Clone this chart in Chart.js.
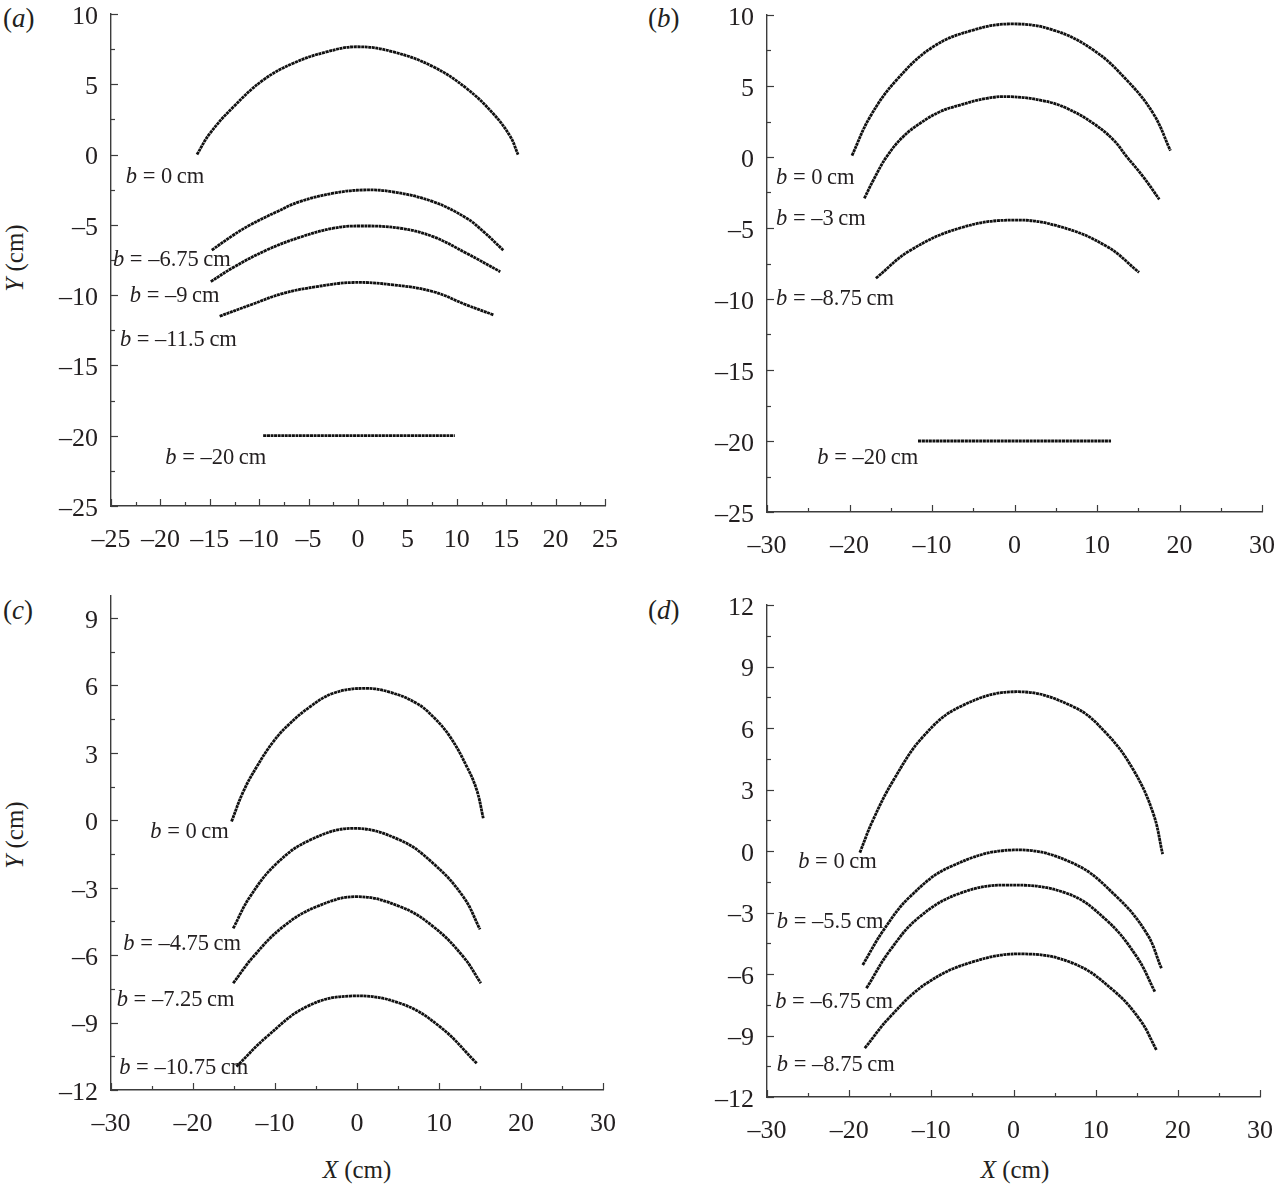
<!DOCTYPE html>
<html>
<head>
<meta charset="utf-8">
<script src="https://cdn.jsdelivr.net/npm/chart.js@4.4.0/dist/chart.umd.min.js"></script>
<style>
  body { margin: 0; background: #fff; width: 1280px; height: 1188px; position: relative; overflow: hidden;
         font-family: "Liberation Serif", "DejaVu Serif", serif; color: #231f20; }
  canvas { position: absolute; }
  .tag { position: absolute; font-size: 27px; line-height: 30px; }
  .ytitle { position: absolute; width: 120px; height: 30px; line-height: 30px; font-size: 25px; text-align: center;
            transform: rotate(-90deg); white-space: nowrap; }
  .xtitle { position: absolute; width: 120px; height: 30px; line-height: 30px; font-size: 25px; text-align: center; white-space: nowrap; }
</style>
</head>
<body>
<div class="tag" style="left:3px;top:3px">(<i>a</i>)</div>
<div class="tag" style="left:648px;top:3px">(<i>b</i>)</div>
<div class="tag" style="left:3px;top:595px">(<i>c</i>)</div>
<div class="tag" style="left:648px;top:595px">(<i>d</i>)</div>
<div class="ytitle" style="left:-45px;top:243px"><i>Y</i> (cm)</div>
<div class="ytitle" style="left:-45px;top:820px"><i>Y</i> (cm)</div>
<div class="xtitle" style="left:297px;top:1155px"><i>X</i> (cm)</div>
<div class="xtitle" style="left:955px;top:1155px"><i>X</i> (cm)</div>

<canvas id="ca" width="640" height="580" style="left:0;top:0"></canvas>
<canvas id="cb" width="640" height="580" style="left:640px;top:0"></canvas>
<canvas id="cc" width="640" height="598" style="left:0;top:590px"></canvas>
<canvas id="cd" width="640" height="598" style="left:640px;top:590px"></canvas>

<script>
// --- data: [X, Y] in cm ---

// panel (a)
const a_b0 = [[-16.3, 0.0], [-15.0, 1.5], [-12.6, 3.4], [-9.6, 5.3], [-6.55, 6.5], [-3.2, 7.3], [-0.1, 7.67],
              [3.6, 7.3], [7.6, 6.25], [11.0, 4.7], [13.7, 2.9], [15.4, 1.3], [16.2, 0.0]];
const a_b675 = [[-14.8, -6.8], [-12.6, -5.72], [-10.9, -5.0], [-8.2, -4.06], [-5.9, -3.35], [-2.5, -2.75],
                [0.5, -2.52], [3.5, -2.65], [7.6, -3.35], [11.0, -4.53], [12.7, -5.48], [14.7, -6.8]];
const a_b9 = [[-14.9, -9.04], [-12.6, -8.02], [-9.24, -6.79], [-5.87, -5.88], [-2.5, -5.24], [0.2, -5.08],
              [4.25, -5.24], [7.6, -5.84], [11.0, -7.03], [14.4, -8.33]];
const a_b115 = [[-14.0, -11.5], [-10.9, -10.7], [-7.56, -9.87], [-4.2, -9.4], [-0.5, -9.1], [3.57, -9.27],
                [7.6, -9.75], [11.0, -10.7], [13.7, -11.4]];
const a_b20 = [[-9.6, -20], [-5, -20], [0, -20], [5, -20], [9.8, -20]];

// panel (b)
const b_b0 = [[-19.7, 0.1], [-17.5, 2.84], [-14.3, 5.42], [-9.84, 7.77], [-5.0, 8.94], [-0.3, 9.37],
              [4.7, 8.94], [9.55, 7.54], [13.6, 5.42], [16.8, 3.08], [18.9, 0.45]];
const b_b3 = [[-18.2, -2.91], [-17.1, -1.62], [-15.5, 0.02], [-13.5, 1.43], [-11.45, 2.37], [-9.03, 3.19],
              [-6.6, 3.66], [-3.37, 4.13], [-0.55, 4.25], [3.5, 3.96], [6.33, 3.43], [9.55, 2.37],
              [12.0, 1.2], [13.6, 0.02], [15.6, -1.39], [17.55, -2.98]];
const b_b875 = [[-16.8, -8.54], [-12.7, -6.6], [-6.6, -5.0], [-0.15, -4.44], [5.5, -4.9], [11.2, -6.3], [15.1, -8.13]];
const b_b20 = [[-11.7, -20], [-6, -20], [0, -20], [6, -20], [11.7, -20]];

// panel (c)
const c_b0 = [[-15.3, -0.06], [-13.9, 1.25], [-12.23, 2.38], [-10.2, 3.5], [-8.17, 4.31], [-5.73, 5.05],
              [-2.9, 5.65], [0.8, 5.87], [4.0, 5.7], [7.28, 5.2], [9.3, 4.6], [11.34, 3.72], [13.4, 2.38],
              [14.6, 1.35], [15.4, 0.09]];
const c_b475 = [[-15.1, -4.81], [-13.05, -3.4], [-9.8, -1.92], [-5.73, -0.88], [-0.45, -0.36], [5.24, -0.88],
                [9.3, -1.92], [12.96, -3.4], [15.0, -4.85]];
const c_b725 = [[-15.1, -7.25], [-12.65, -6.07], [-9.0, -4.73], [-4.9, -3.84], [-0.05, -3.4], [5.24, -3.84],
                [9.3, -4.73], [12.96, -6.07], [15.1, -7.25]];
const c_b1075 = [[-14.7, -10.96], [-11.0, -9.63], [-6.13, -8.29], [-0.85, -7.82], [5.24, -8.14],
                 [10.1, -9.18], [14.6, -10.81]];

// panel (d)
const d_b0 = [[-18.7, -0.08], [-17.1, 1.51], [-14.6, 3.46], [-11.0, 5.58], [-6.5, 7.04], [0.4, 7.77],
              [7.27, 7.04], [11.3, 5.74], [14.6, 3.95], [17.0, 1.84], [18.15, -0.15]];
const d_b55 = [[-18.35, -5.56], [-15.8, -3.85], [-12.6, -2.23], [-7.7, -0.77], [0.0, 0.05], [7.27, -0.6],
               [12.55, -2.23], [16.2, -4.01], [18.0, -5.72]];
const d_b675 = [[-17.9, -6.7], [-15.0, -4.83], [-11.4, -3.2], [-6.5, -2.06], [-0.8, -1.66], [6.47, -2.06],
                [11.3, -3.37], [15.0, -5.16], [17.2, -6.86]];
const d_b875 = [[-18.1, -9.62], [-15.0, -8.08], [-10.56, -6.45], [-4.9, -5.4], [1.2, -5.02], [7.27, -5.48],
                [12.1, -6.78], [15.4, -8.24], [17.4, -9.71]];

// curve labels (b value, anchor in data coords)
const aLabelText = ['0', '\u20136.75', '\u20139', '\u201311.5', '\u201320'];
const aLabelX = [-23.5, -24.8, -23.1, -24.1, -19.5];
const aLabelY = [-1.57, -7.5, -10.1, -13.2, -21.6];
const bLabelText = ['0', '\u20133', '\u20138.75', '\u201320'];
const bLabelX = [-28.9, -28.9, -28.9, -23.9];
const bLabelY = [-1.5, -4.36, -10.04, -21.2];
const cLabelText = ['0', '\u20134.75', '\u20137.25', '\u201310.75'];
const cLabelX = [-25.2, -28.5, -29.3, -29.0];
const cLabelY = [-0.51, -5.51, -8.0, -11.02];
const dLabelText = ['0', '\u20135.5', '\u20136.75', '\u20138.75'];
const dLabelX = [-26.2, -28.8, -29.0, -28.8];
const dLabelY = [-0.54, -3.46, -7.39, -10.44];

// tick values
const aXTicks = [-25, -20, -15, -10, -5, 0, 5, 10, 15, 20, 25];
const aYTicks = [-25, -20, -15, -10, -5, 0, 5, 10];
const bXTicks = [-30, -20, -10, 0, 10, 20, 30];
const bYTicks = [-25, -20, -15, -10, -5, 0, 5, 10];
const cXTicks = [-30, -20, -10, 0, 10, 20, 30];
const cYTicks = [-12, -9, -6, -3, 0, 3, 6, 9];
const dXTicks = [-30, -20, -10, 0, 10, 20, 30];
const dYTicks = [-12, -9, -6, -3, 0, 3, 6, 9, 12];

const INK = '#231f20';
const AXIS = '#3c3c3c';
const SERIF = '"Liberation Serif", "DejaVu Serif", serif';

// inward major + minor tick marks
const innerTicks = {
    id: 'innerTicks',
    afterDraw(chart) {
        const ctx = chart.ctx;
        const { left, bottom } = chart.chartArea;
        const xs = chart.scales.x, ys = chart.scales.y;
        ctx.save();
        ctx.strokeStyle = AXIS;
        ctx.lineWidth = 1.2;
        const draw = (scale, horiz) => {
            const vals = scale.ticks.map(t => t.value);
            const minor = [];
            for (let i = 1; i < vals.length; i++) minor.push((vals[i - 1] + vals[i]) / 2);
            [[vals, 7], [minor, 4]].forEach(([list, len]) => {
                list.forEach(v => {
                    if (v < scale.min || v > scale.max) return;
                    const p = Math.round(scale.getPixelForValue(v)) + 0.5;
                    ctx.beginPath();
                    if (horiz) { ctx.moveTo(p, bottom); ctx.lineTo(p, bottom - len); }
                    else { ctx.moveTo(left, p); ctx.lineTo(left + len, p); }
                    ctx.stroke();
                });
            });
        };
        draw(xs, true);
        draw(ys, false);
        ctx.restore();
    }
};

// "b = ... cm" annotations placed through the scales
const bLabels = {
    id: 'bLabels',
    afterDatasetsDraw(chart, args, opts) {
        const ctx = chart.ctx;
        const xs = chart.scales.x, ys = chart.scales.y;
        ctx.save();
        ctx.fillStyle = INK;
        ctx.textBaseline = 'middle';
        ctx.textAlign = 'left';
        opts.text.forEach((t, i) => {
            let px = xs.getPixelForValue(opts.x[i]);
            const py = ys.getPixelForValue(opts.y[i]);
            ctx.font = 'italic 22.5px ' + SERIF;
            ctx.fillText('b', px, py);
            px += ctx.measureText('b').width;
            ctx.font = '22.5px ' + SERIF;
            ctx.fillText(' = ' + t + '\u2009cm', px, py);
        });
        ctx.restore();
    }
};

const fmt = v => (v < 0 ? '\u2013' + Math.abs(v) : String(v));

const makeChart = (id, c) => {
    new Chart(document.getElementById(id), {
        type: 'line',
        data: {
            datasets: c.series.map(s => ({
                data: s.map(p => ({ x: p[0], y: p[1] })),
                borderColor: '#111',
                borderWidth: 2.8,
                borderDash: [3, 0.6],
                pointRadius: 0,
                tension: 0.4,
                fill: false
            }))
        },
        options: {
            responsive: false,
            animation: false,
            events: [],
            layout: { padding: { left: 0, top: c.top, right: c.right, bottom: 0 } },
            plugins: {
                legend: { display: false },
                tooltip: { enabled: false },
                bLabels: { text: c.labels, x: c.lx, y: c.ly }
            },
            scales: {
                x: {
                    type: 'linear', min: c.xMin, max: c.xMax,
                    afterBuildTicks: s => { s.ticks = c.xTicks.map(v => ({ value: v })); },
                    afterFit: s => { s.height = c.xh; s.paddingLeft = 0; s.paddingRight = 0; },
                    grid: { display: false, drawTicks: false },
                    border: { display: true, color: AXIS, width: 1.4 },
                    ticks: { autoSkip: false, maxRotation: 0, padding: 19, color: INK,
                             font: { family: SERIF, size: 26 }, callback: fmt }
                },
                y: {
                    type: 'linear', min: c.yMin, max: c.yMax,
                    afterBuildTicks: s => { s.ticks = c.yTicks.map(v => ({ value: v })); },
                    afterFit: s => { s.width = c.yw; s.paddingTop = 0; s.paddingBottom = 0; },
                    grid: { display: false, drawTicks: false },
                    border: { display: true, color: AXIS, width: 1.4 },
                    ticks: { autoSkip: false, padding: 13, labelOffset: 3, color: INK,
                             font: { family: SERIF, size: 26 }, callback: fmt }
                }
            }
        },
        plugins: [innerTicks, bLabels]
    });
};

makeChart('ca', {
    series: [a_b0, a_b675, a_b9, a_b115, a_b20],
    labels: aLabelText, lx: aLabelX, ly: aLabelY,
    xMin: -25, xMax: 25, yMin: -25, yMax: 10, xTicks: aXTicks, yTicks: aYTicks,
    top: 14, right: 35, yw: 111, xh: 74
});
makeChart('cb', {
    series: [b_b0, b_b3, b_b875, b_b20],
    labels: bLabelText, lx: bLabelX, ly: bLabelY,
    xMin: -30, xMax: 30, yMin: -25, yMax: 10, xTicks: bXTicks, yTicks: bYTicks,
    top: 15, right: 18, yw: 127, xh: 68
});
makeChart('cc', {
    series: [c_b0, c_b475, c_b725, c_b1075],
    labels: cLabelText, lx: cLabelX, ly: cLabelY,
    xMin: -30, xMax: 30, yMin: -12, yMax: 10, xTicks: cXTicks, yTicks: cYTicks,
    top: 5.5, right: 37, yw: 111, xh: 98
});
makeChart('cd', {
    series: [d_b0, d_b55, d_b675, d_b875],
    labels: dLabelText, lx: dLabelX, ly: dLabelY,
    xMin: -30, xMax: 30, yMin: -12, yMax: 12, xTicks: dXTicks, yTicks: dYTicks,
    top: 15, right: 20, yw: 127, xh: 91
});
</script>
</body>
</html>
